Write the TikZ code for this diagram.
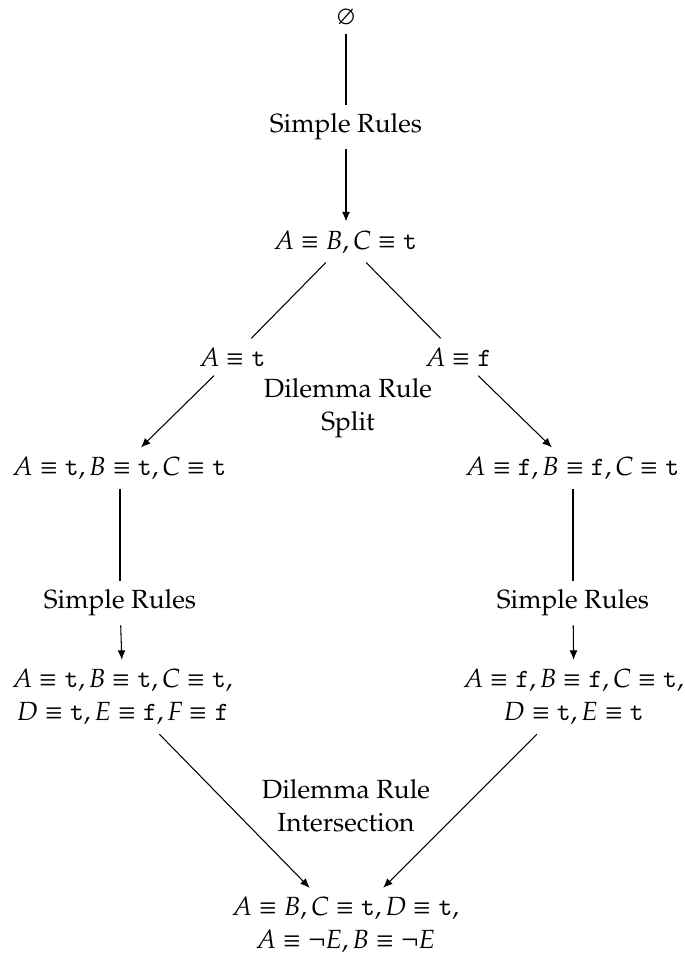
\documentclass[tikz,border=0pt]{standalone}
\usepackage[T1]{fontenc}
\usepackage{pxfonts}
\DeclareMathAlphabet{\mathtt}{OT1}{cmtt}{m}{n}
\usetikzlibrary{arrows.meta}
\tikzset{
  lbl/.style={align=center, font=\linespread{1.05}\selectfont},
  arr/.style={-{Latex[length=3.6pt,width=3pt]}},
  ln/.style={-}
}
\begin{document}
\begin{tikzpicture}[x=0.3802pt,y=-0.3802pt]
\useasboundingbox (0,0) rectangle (684,953);
\node (e) at (346,17) {$\varnothing$};
\node (s1) at (346,127) {Simple Rules};
\node (n1) at (346,242) {$A \equiv B, C \equiv \mathtt{t}$};
\node (at) at (233,357) {$A \equiv \mathtt{t}$};
\node (af) at (459,357) {$A \equiv \mathtt{f}$};
\node[lbl] (lab1) at (348,408) {Dilemma Rule\\Split};
\node (l3) at (120,468) {$A \equiv \mathtt{t}, B \equiv \mathtt{t}, C \equiv \mathtt{t}$};
\node (r3) at (573,468) {$A \equiv \mathtt{f}, B \equiv \mathtt{f}, C \equiv \mathtt{t}$};
\node (sl) at (120,603) {Simple Rules};
\node (sr) at (573,603) {Simple Rules};
\node[lbl] (l4) at (123,697) {$A \equiv \mathtt{t}, B \equiv \mathtt{t}, C \equiv \mathtt{t},$\\$D \equiv \mathtt{t}, E \equiv \mathtt{f}, F \equiv \mathtt{f}$};
\node[lbl] (r4) at (574,697) {$A \equiv \mathtt{f}, B \equiv \mathtt{f}, C \equiv \mathtt{t},$\\$D \equiv \mathtt{t}, E \equiv \mathtt{t}$};
\node[lbl] (lab2) at (346,806) {Dilemma Rule\\Intersection};
\node[lbl] (bot) at (346,925) {$A \equiv B, C \equiv \mathtt{t}, D \equiv \mathtt{t},$\\$A \equiv \neg E, B \equiv \neg E$};
\draw[ln] (e) -- (s1);
\draw[arr] (s1) -- (n1);
\draw[ln] (n1) -- (at);
\draw[ln] (n1) -- (af);
\draw[arr] (at) -- (l3);
\draw[arr] (af) -- (r3);
\draw[ln] (l3) -- (sl);
\draw[arr] (sl) -- (l4);
\draw[ln] (r3) -- (sr);
\draw[arr] (sr) -- (r4);
\draw[arr] (l4) -- (bot);
\draw[arr] (r4) -- (bot);
\end{tikzpicture}
\end{document}
